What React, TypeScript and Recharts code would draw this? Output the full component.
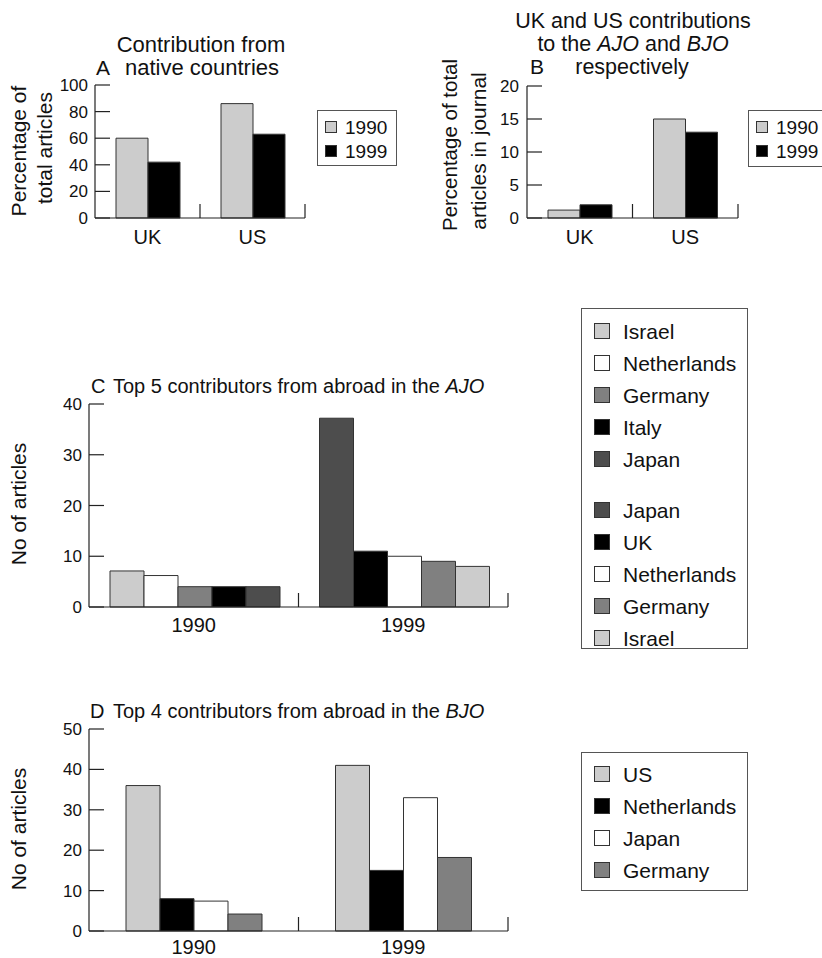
import React from 'react';
import { BarChart, Bar, XAxis, YAxis, Cell } from 'recharts';

// ---------- Data ----------
const panelACategories = ['UK', 'US'];
const panelA1990 = [60, 86];
const panelA1999 = [42, 63];

const panelBCategories = ['UK', 'US'];
const panelB1990 = [1.2, 15];
const panelB1999 = [2, 13];

const panelCYears = ['1990', '1999'];
const panelC1990Countries = ['Israel', 'Netherlands', 'Germany', 'Italy', 'Japan'];
const panelC1990Values = [7.1, 6.2, 4, 4, 4];
const panelC1999Countries = ['Japan', 'UK', 'Netherlands', 'Germany', 'Israel'];
const panelC1999Values = [37.2, 11, 10, 9, 8];

const panelDYears = ['1990', '1999'];
const panelDCountries = ['US', 'Netherlands', 'Japan', 'Germany'];
const panelD1990 = [36, 8, 7.4, 4.2];
const panelD1999 = [41, 15, 33, 18.2];

const yearLabels = ['1990', '1999'];

const ticksA = [0, 20, 40, 60, 80, 100];
const ticksB = [0, 5, 10, 15, 20];
const ticksC = [0, 10, 20, 30, 40];
const ticksD = [0, 10, 20, 30, 40, 50];

// ---------- Styles ----------
const FONT = '"Liberation Sans", Arial, Helvetica, sans-serif';
const LIGHT = '#cccccc';
const WHITE = '#ffffff';
const MID = '#808080';
const DARK = '#4d4d4d';
const BLACK = '#000000';
const AXIS = '#222222';
const OUTLINE = '#333333';

const yearColors = [LIGHT, BLACK];
const colorsC: Record<string, string> = {
  Israel: LIGHT,
  Netherlands: WHITE,
  Germany: MID,
  Italy: BLACK,
  UK: BLACK,
  Japan: DARK,
};
const colorsD = [LIGHT, BLACK, WHITE, MID];

// ---------- Built tables ----------
const dataA = panelACategories.map((c, i) => ({ name: c, y1990: panelA1990[i], y1999: panelA1999[i] }));
const dataB = panelBCategories.map((c, i) => ({ name: c, y1990: panelB1990[i], y1999: panelB1999[i] }));
const groupsC = [
  { countries: panelC1990Countries, values: panelC1990Values },
  { countries: panelC1999Countries, values: panelC1999Values },
];
const dataC = panelCYears.map((y, gi) => {
  const row: Record<string, any> = { name: y };
  groupsC[gi].values.forEach((v, k) => (row['s' + k] = v));
  return row;
});
const dataD = panelDYears.map((y, gi) => {
  const row: Record<string, any> = { name: y };
  panelDCountries.forEach((c, k) => (row[c] = gi === 0 ? panelD1990[k] : panelD1999[k]));
  return row;
});

// ---------- Custom ticks ----------
const XTick = (props: any) => {
  const { x, y, payload, half, gap, fs } = props;
  const axisY = y - gap;
  return (
    <g>
      <line x1={x + half} x2={x + half} y1={axisY} y2={axisY - 14} stroke={AXIS} strokeWidth={1.2} />
      <text x={x} y={y} dy="0.71em" textAnchor="middle" fontSize={fs} fontFamily={FONT} fill="#111">
        {payload.value}
      </text>
    </g>
  );
};

const YTick = (props: any) => {
  const { x, y, payload, gap, fs } = props;
  const axisX = x + gap;
  return (
    <g>
      <line x1={axisX} x2={axisX + 15} y1={y} y2={y} stroke={AXIS} strokeWidth={1.2} />
      <text x={x} y={y} dy="0.355em" textAnchor="end" fontSize={fs} fontFamily={FONT} fill="#111">
        {payload.value}
      </text>
    </g>
  );
};

const axisLineStyle = { stroke: AXIS, strokeWidth: 1.2 };

// ---------- Legend ----------
type LegendProps = {
  left: number;
  top: number;
  width: number;
  height: number;
  labels: string[];
  colors: string[];
  first: number;
  step: number;
  breakAfter?: number;
  extra?: number;
  sq: number;
  sqX: number;
  textX: number;
  fs: number;
};
const LegendBox = (p: LegendProps) => (
  <svg
    style={{ position: 'absolute', left: p.left, top: p.top }}
    width={p.width}
    height={p.height}
  >
    <rect x={0.5} y={0.5} width={p.width - 1} height={p.height - 1} fill="#fff" stroke="#555" strokeWidth={1} />
    {p.labels.map((l, i) => {
      const cy = p.first + i * p.step + (p.breakAfter !== undefined && i >= p.breakAfter ? p.extra || 0 : 0);
      return (
        <g key={i}>
          <rect x={p.sqX + 0.5} y={cy - p.sq / 2 + 0.5} width={p.sq - 1} height={p.sq - 1} fill={p.colors[i]} stroke="#333" strokeWidth={1} />
          <text x={p.textX} y={cy} dy="0.36em" fontSize={p.fs} fontFamily={FONT} fill="#111">
            {l}
          </text>
        </g>
      );
    })}
  </svg>
);

const abs = (left: number, top: number): React.CSSProperties => ({ position: 'absolute', left, top });

export default function App() {
  const legendCLabels = [...panelC1990Countries, ...panelC1999Countries];
  const legendCColors = legendCLabels.map((c) => colorsC[c]);
  return (
    <div
      style={{
        position: 'absolute',
        left: 0,
        top: 0,
        width: 822,
        height: 958,
        overflow: 'hidden',
        background: '#fff',
        fontFamily: FONT,
      }}
    >
      {/* Panel A */}
      <div style={abs(40, 75)}>
        <BarChart width={270} height={173} data={dataA} margin={{ top: 10, right: 5, left: 0, bottom: 0 }} barCategoryGap={21} barGap={0}>
          <XAxis dataKey="name" height={30} interval={0} tickSize={0} tickMargin={12} axisLine={axisLineStyle} tickLine={false} tick={<XTick half={52.5} gap={12} fs={20} />} />
          <YAxis width={55} domain={[0, 100]} ticks={ticksA} interval={0} tickSize={0} tickMargin={7} axisLine={axisLineStyle} tickLine={false} tick={<YTick gap={7} fs={17} />} />
          <Bar dataKey="y1990" fill={yearColors[0]} stroke={OUTLINE} strokeWidth={1} isAnimationActive={false} />
          <Bar dataKey="y1999" fill={yearColors[1]} stroke={OUTLINE} strokeWidth={1} isAnimationActive={false} />
        </BarChart>
      </div>

      {/* Panel B */}
      <div style={abs(472, 76)}>
        <BarChart width={271} height={172} data={dataB} margin={{ top: 10, right: 5, left: 0, bottom: 0 }} barCategoryGap={21} barGap={0}>
          <XAxis dataKey="name" height={30} interval={0} tickSize={0} tickMargin={12} axisLine={axisLineStyle} tickLine={false} tick={<XTick half={52.75} gap={12} fs={20} />} />
          <YAxis width={55} domain={[0, 20]} ticks={ticksB} interval={0} tickSize={0} tickMargin={8} axisLine={axisLineStyle} tickLine={false} tick={<YTick gap={8} fs={17} />} />
          <Bar dataKey="y1990" fill={yearColors[0]} stroke={OUTLINE} strokeWidth={1} isAnimationActive={false} />
          <Bar dataKey="y1999" fill={yearColors[1]} stroke={OUTLINE} strokeWidth={1} isAnimationActive={false} />
        </BarChart>
      </div>

      {/* Panel C */}
      <div style={abs(34, 394)}>
        <BarChart width={479} height={243} data={dataC} margin={{ top: 10, right: 5, left: 0, bottom: 0 }} barCategoryGap={21} barGap={0}>
          <XAxis dataKey="name" height={30} interval={0} tickSize={0} tickMargin={11} axisLine={axisLineStyle} tickLine={false} tick={<XTick half={104.75} gap={11} fs={20} />} />
          <YAxis width={55} domain={[0, 40]} ticks={ticksC} interval={0} tickSize={0} tickMargin={7} axisLine={axisLineStyle} tickLine={false} tick={<YTick gap={7} fs={17} />} />
          {panelC1990Countries.map((_, k) => (
            <Bar key={k} dataKey={'s' + k} stroke={OUTLINE} strokeWidth={1} isAnimationActive={false}>
              {groupsC.map((g, gi) => (
                <Cell key={gi} fill={colorsC[g.countries[k]]} />
              ))}
            </Bar>
          ))}
        </BarChart>
      </div>

      {/* Panel D */}
      <div style={abs(34, 719)}>
        <BarChart width={479} height={239} data={dataD} margin={{ top: 10, right: 5, left: 0, bottom: 0 }} barCategoryGap={37} barGap={0}>
          <XAxis dataKey="name" height={27} interval={0} tickSize={0} tickMargin={9} axisLine={axisLineStyle} tickLine={false} tick={<XTick half={104.75} gap={9} fs={20} />} />
          <YAxis width={55} domain={[0, 50]} ticks={ticksD} interval={0} tickSize={0} tickMargin={7} axisLine={axisLineStyle} tickLine={false} tick={<YTick gap={7} fs={17} />} />
          {panelDCountries.map((c, k) => (
            <Bar key={c} dataKey={c} fill={colorsD[k]} stroke={OUTLINE} strokeWidth={1} isAnimationActive={false} />
          ))}
        </BarChart>
      </div>

      {/* Legends */}
      <LegendBox left={317} top={110} width={80} height={56} labels={yearLabels} colors={yearColors} first={17} step={24} sq={12} sqX={8} textX={28} fs={19} />
      <LegendBox left={748} top={110} width={90} height={57} labels={yearLabels} colors={yearColors} first={17} step={24} sq={12} sqX={8} textX={28} fs={19} />
      <LegendBox left={581} top={308} width={167} height={341} labels={legendCLabels} colors={legendCColors} first={23} step={32} breakAfter={5} extra={19} sq={16} sqX={13} textX={42} fs={21} />
      <LegendBox left={581} top={752} width={167} height={139} labels={panelDCountries} colors={colorsD} first={22} step={32} sq={16} sqX={13} textX={42} fs={21} />

      {/* Titles and axis labels */}
      <svg style={{ position: 'absolute', left: 0, top: 0, pointerEvents: 'none' }} width={822} height={958} fontFamily={FONT} fill="#111">
        {/* A */}
        <text x={201} y={52} textAnchor="middle" fontSize={22}>Contribution from</text>
        <text x={96} y={75} fontSize={21}>A</text>
        <text x={202} y={75} textAnchor="middle" fontSize={22}>native countries</text>
        <text transform="translate(26,151) rotate(-90)" textAnchor="middle" fontSize={21}>Percentage of</text>
        <text transform="translate(52,148) rotate(-90)" textAnchor="middle" fontSize={21}>total articles</text>
        {/* B */}
        <text x={633} y={28} textAnchor="middle" fontSize={21.5}>UK and US contributions</text>
        <text x={633} y={51} textAnchor="middle" fontSize={21.5}>
          to the <tspan fontStyle="italic">AJO</tspan> and <tspan fontStyle="italic">BJO</tspan>
        </text>
        <text x={530} y={74} fontSize={21}>B</text>
        <text x={632} y={74} textAnchor="middle" fontSize={21.5}>respectively</text>
        <text transform="translate(457,145) rotate(-90)" textAnchor="middle" fontSize={20.5}>Percentage of total</text>
        <text transform="translate(486,151) rotate(-90)" textAnchor="middle" fontSize={21}>articles in journal</text>
        {/* C */}
        <text x={91} y={393} fontSize={20}>C</text>
        <text x={113} y={393} fontSize={20}>
          Top 5 contributors from abroad in the <tspan fontStyle="italic">AJO</tspan>
        </text>
        <text transform="translate(26,504) rotate(-90)" textAnchor="middle" fontSize={21}>No of articles</text>
        {/* D */}
        <text x={90} y={718} fontSize={20}>D</text>
        <text x={113} y={718} fontSize={20}>
          Top 4 contributors from abroad in the <tspan fontStyle="italic">BJO</tspan>
        </text>
        <text transform="translate(26,829) rotate(-90)" textAnchor="middle" fontSize={21}>No of articles</text>
      </svg>
    </div>
  );
}
